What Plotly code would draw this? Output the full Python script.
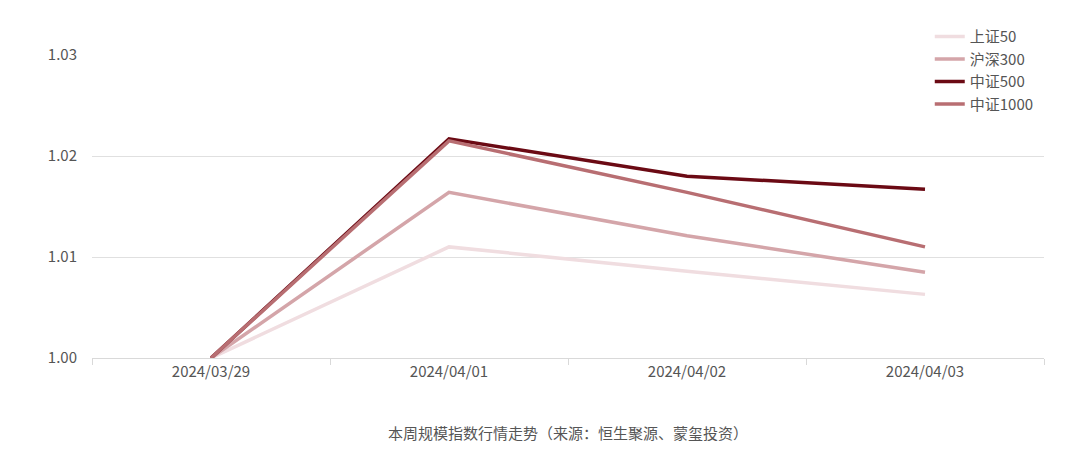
import plotly.graph_objects as go

dates = ["2024/03/29", "2024/04/01", "2024/04/02", "2024/04/03"]
sz50 = [1.0, 1.0110, 1.0086, 1.0063]
hs300 = [1.0, 1.0164, 1.0121, 1.0085]
zz500 = [1.0, 1.0217, 1.0180, 1.0167]
zz1000 = [1.0, 1.0215, 1.0164, 1.0110]
names = ["上证50", "沪深300", "中证500", "中证1000"]
colors = ["#f0dde0", "#d4a5a9", "#6b0a14", "#b86e72"]

x = list(range(len(dates)))
fig = go.Figure()
for n, s, c in zip(names, [sz50, hs300, zz500, zz1000], colors):
    fig.add_trace(go.Scatter(x=x, y=s, name=n, mode="lines", line=dict(color=c, width=3.5)))

font = "Noto Sans CJK SC"
fig.update_layout(
    width=1080, height=456, paper_bgcolor="white", plot_bgcolor="white",
    margin=dict(l=84, r=44, t=41, b=106),
    font=dict(family=font, size=15, color="#555"),
    showlegend=True,
    legend=dict(x=0.88, y=1.115, xanchor="left", yanchor="top", bgcolor="rgba(0,0,0,0)",
                font=dict(size=15, color="#555"), tracegroupgap=0),
    xaxis=dict(range=[-0.5, 3.5], tickvals=x, ticktext=dates, showgrid=False, ticks="",
               showline=True, linecolor="#d9d9d9", zeroline=False,
               minor=dict(tickvals=[-0.5, 0.5, 1.5, 2.5, 3.5], ticks="outside", ticklen=6, tickcolor="#d9d9d9")),
    yaxis=dict(range=[1.0, 1.03], tickvals=[1.0, 1.01, 1.02, 1.03], tickformat=".2f",
               gridcolor="#e0e0e0", zeroline=False, ticks="", ticklabelstandoff=14),
    annotations=[dict(text="本周规模指数行情走势（来源：恒生聚源、蒙玺投资）", xref="paper", yref="paper",
                      x=0.5, y=-0.245, xanchor="center", yanchor="middle", showarrow=False,
                      font=dict(size=15, color="#555"))],
)
fig.write_html("out.html")
